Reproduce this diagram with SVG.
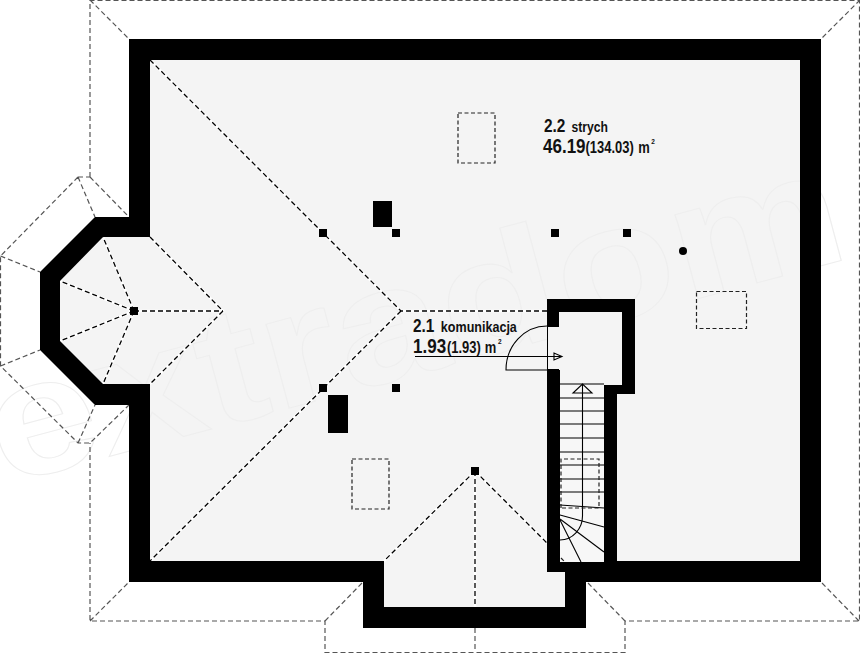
<svg xmlns="http://www.w3.org/2000/svg" width="860" height="653" viewBox="0 0 860 653">
<style>
.roof{fill:none;stroke:#555;stroke-width:1.2;stroke-dasharray:5 3}
.halo{fill:none;stroke:#fff;stroke-width:2.5}
.ridge{fill:none;stroke:#000;stroke-width:1.3;stroke-dasharray:5 3}
.sky{fill:none;stroke:#222;stroke-width:1.2;stroke-dasharray:4 2.5}
.thin{fill:none;stroke:#000;stroke-width:1.1}
.t{font-family:"Liberation Sans",Arial,sans-serif;font-weight:bold;fill:#111}
.wm{font-family:"Liberation Sans",Arial,sans-serif;font-weight:bold;font-size:165px;fill:none;stroke:#eeeeee;stroke-width:1}
</style>
<rect width="860" height="653" fill="#fff"/>
<g id="floor">
<path d="M150 60H800V561H565V607H384V561H150V384H103L60 341V281L103 237H150Z" fill="#f4f4f4"/>
<path d="M560 384H604V561H560Z" fill="#f4f4f4"/>
</g>
<text id="watermark" class="wm" transform="translate(3 485) rotate(-15)" textLength="880" lengthAdjust="spacingAndGlyphs">extradom</text>
<g id="connectors">
<path class="roof" d="M90 177V0.5H859.5V621H625V652.5H325V621H90V443M90 0L129 39M860 0L821 39M90 621L129 582M859 621L821 582M325 621L363 582M625 621L587 582M475 628V652M90 177L129 217M78 177L95 217M78 177H90M78 177L0.5 256V366L78 443H90L129 405M78 443L95 405M0.5 256L40 272M0.5 366L40 350"/>
<path class="halo" d="M150 60L401 311H547M401 311L150 561M475 471L384 561M475 471L547 543M475 471V607M134 311L103 237M134 311L60 281M134 311L60 341M134 311L103 384M134 311H223M150 237L223 311L150 384"/>
<path class="ridge" d="M150 60L401 311H547M401 311L150 561M475 471L384 561M475 471L547 543M475 471V607M134 311L103 237M134 311L60 281M134 311L60 341M134 311L103 384M134 311H223M150 237L223 311L150 384"/>
</g>
<g id="walls">
<path fill-rule="evenodd" fill="#000" d="M129 39H821V582H586V628H363V582H129V405H95L40 350V272L95 217H129ZM150 60V237H103L60 281V341L103 384H150V561H384V607H565V572H547V326H559V312H622V384H604V561H800V60Z"/>
<path fill="#f4f4f4" d="M559 312H622V385H559Z"/>
<path fill="#000" d="M547 299H635V394H617V561H604V385H622V312H559V326H547ZM547 370H560V572H547Z"/>
<path fill="#f4f4f4" d="M548 327H560V369H548Z"/>
</g>
<g id="stairs">
<rect x="560" y="385" width="44" height="177" fill="#f7f7f7"/>
<path class="thin" d="M560 384H604M560 398H604M560 411H604M560 424H604M560 438H604M560 452H604M560 465H604M560 479H604M560 492H604M560 505L604 508M560 515L604 527M560 519L604 552M560 520L581 562"/>
<path class="thin" d="M582.500 384V516A23 24 0 0 1 560 540M573 393H592L582.500 384Z"/>
<path class="sky" d="M561 508V459H599V508Z"/>
<path class="sky" d="M561 558L565 562"/>
</g>
<g id="door">
<path class="thin" d="M547 326A41 44 0 0 0 506 370H547"/>
<path class="thin" d="M415 356.500H561M554 353V360L562 356.500Z"/>
</g>
<g id="skylights">
<rect class="sky" x="458" y="113" width="37" height="50"/>
<rect class="sky" x="696.500" y="291.500" width="50" height="37"/>
<rect class="sky" x="352" y="459" width="37" height="50"/>
</g>
<g id="posts" fill="#000">
<rect x="373" y="201" width="19" height="26"/>
<rect x="328" y="395" width="20" height="38"/>
<rect x="319" y="229" width="8" height="8"/>
<rect x="392" y="229" width="8" height="8"/>
<rect x="551" y="229" width="8" height="8"/>
<rect x="623" y="229" width="8" height="8"/>
<rect x="319" y="384" width="8" height="8"/>
<rect x="392" y="384" width="8" height="8"/>
<rect x="471" y="467" width="8" height="8"/>
<rect x="130" y="307" width="8" height="8"/>
<circle cx="683" cy="251" r="4"/>
</g>
<g id="label-strych">
<text class="t" transform="translate(544 132) scale(.81 1)"><tspan font-size="19">2.2</tspan><tspan font-size="15" dx="7.500">strych</tspan></text>
<text class="t" transform="translate(543 153) scale(.81 1)"><tspan font-size="21">46.19</tspan><tspan font-size="16">(134.03)</tspan><tspan font-size="16" dx="5.500">m</tspan><tspan font-size="8" dx="2" dy="-9">2</tspan></text>
</g>
<g id="label-komunikacja">
<text class="t" transform="translate(413 332) scale(.81 1)"><tspan font-size="19">2.1</tspan><tspan font-size="15.500" dx="8">komunikacja</tspan></text>
<text class="t" transform="translate(413 353) scale(.81 1)"><tspan font-size="21">1.93</tspan><tspan font-size="16" dx="1">(1.93)</tspan><tspan font-size="16" dx="5">m</tspan><tspan font-size="8" dx="2" dy="-9">2</tspan></text>
</g>
</svg>
